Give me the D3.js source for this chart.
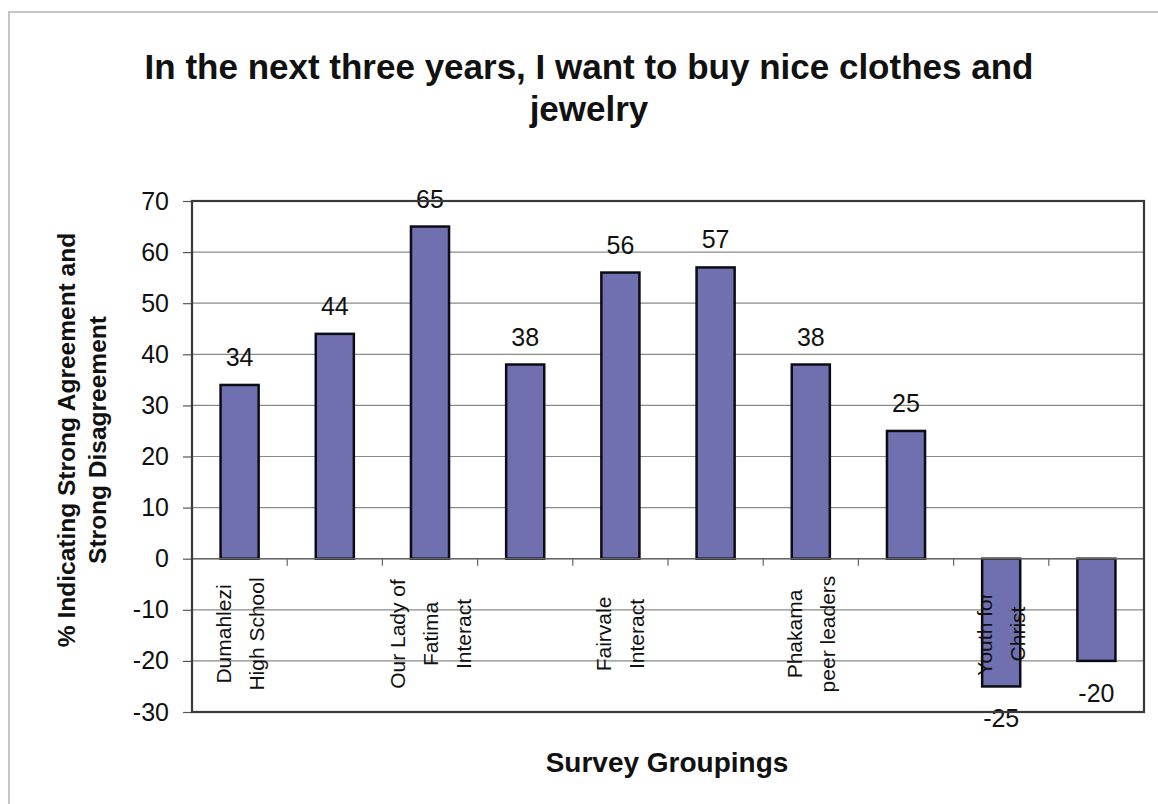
<!DOCTYPE html>
<html>
<head>
<meta charset="utf-8">
<script src="https://cdn.jsdelivr.net/npm/d3@7"></script>
<style>
  html, body { margin: 0; padding: 0; background: #fff; }
  svg { display: block; font-family: "Liberation Sans", Arial, sans-serif; }
</style>
</head>
<body>
<svg id="chart" width="1158" height="804"></svg>
<script>
// Survey groups (only every other group carries a printed name on the axis)
const groups = [
  "Dumahlezi High School", "",
  "Our Lady of Fatima Interact", "",
  "Fairvale Interact", "",
  "Phakama peer leaders", "",
  "Youth for Christ", ""
];
// % indicating strong agreement minus strong disagreement
const values = [34, 44, 65, 38, 56, 57, 38, 25, -25, -20];
const yTicks = [-30, -20, -10, 0, 10, 20, 30, 40, 50, 60, 70];
const titleLines = ["In the next three years, I want to buy nice clothes and", "jewelry"];
const yTitleLines = ["% Indicating Strong Agreement and", "Strong Disagreement"];
const xTitle = "Survey Groupings";

const svg = d3.select("#chart");
const plot = { left: 192, right: 1144, top: 201, bottom: 712 };

// outer chart frame
svg.append("rect")
  .attr("x", 9).attr("y", 12).attr("width", 1200).attr("height", 900)
  .attr("fill", "none").attr("stroke", "#b4b4b4").attr("stroke-width", 1.5);

const x = d3.scaleBand()
  .domain(d3.range(values.length))
  .range([plot.left, plot.right])
  .paddingInner(0.6).paddingOuter(0.3);
const step = x.step();
const boundary = i => x(i) - step * 0.3;   // left edge of a group's slot

const y = d3.scaleLinear().domain([-30, 70]).range([plot.bottom, plot.top]);

// horizontal gridlines
svg.append("g").selectAll("line").data(yTicks).join("line")
  .attr("x1", plot.left).attr("x2", plot.right)
  .attr("y1", d => y(d)).attr("y2", d => y(d))
  .attr("stroke", "#8a8a8a").attr("stroke-width", 1.2);

// value axis ticks and labels (plain hyphen for negatives)
const yAxis = d3.axisLeft(y).tickValues(yTicks).tickSize(9).tickPadding(14).tickFormat(d => String(d));
const gy = svg.append("g").attr("transform", `translate(${plot.left},0)`).call(yAxis);
gy.select(".domain").remove();
gy.selectAll(".tick line").attr("stroke", "#555").attr("stroke-width", 1.2);
gy.selectAll(".tick text").attr("font-size", 25).attr("fill", "#111")
  .attr("font-family", "'Liberation Sans', Arial, sans-serif");

// bars
svg.append("g").selectAll("rect").data(values).join("rect")
  .attr("x", (d, i) => x(i))
  .attr("width", x.bandwidth())
  .attr("y", d => y(Math.max(0, d)))
  .attr("height", d => Math.abs(y(d) - y(0)))
  .attr("fill", "#7070b0")
  .attr("stroke", "#0c0c14").attr("stroke-width", 2.5);

// category axis along zero with tick marks at group boundaries
svg.append("line")
  .attr("x1", plot.left).attr("x2", plot.right)
  .attr("y1", y(0)).attr("y2", y(0))
  .attr("stroke", "#666").attr("stroke-width", 1.4);
svg.append("g").selectAll("line").data(d3.range(1, values.length)).join("line")
  .attr("x1", boundary).attr("x2", boundary)
  .attr("y1", y(0)).attr("y2", y(0) + 7)
  .attr("stroke", "#666").attr("stroke-width", 1.2);

// data labels
svg.append("g").selectAll("text").data(values).join("text")
  .attr("x", (d, i) => x(i) + x.bandwidth() / 2)
  .attr("y", d => d >= 0 ? y(d) - 19 : y(d) + 41)
  .attr("text-anchor", "middle")
  .attr("font-size", 25).attr("fill", "#111")
  .text(d => String(d));

// rotated, wrapped group names
const labelFont = 21, lineGap = 33, wrapWidth = 120;
const measurer = svg.append("text").attr("font-size", labelFont).attr("visibility", "hidden");
function wrap(str) {
  const words = str.split(" ");
  const lines = [];
  let cur = "";
  words.forEach(w => {
    const test = cur ? cur + " " + w : w;
    measurer.text(test);
    if (cur && measurer.node().getComputedTextLength() > wrapWidth) {
      lines.push(cur); cur = w;
    } else cur = test;
  });
  if (cur) lines.push(cur);
  return lines;
}
const labelG = svg.append("g");
groups.forEach((name, i) => {
  if (!name) return;
  const lines = wrap(name);
  const cx = x(i) + x.bandwidth() / 2;
  const t = labelG.append("text")
    .attr("transform", `translate(${cx},634) rotate(-90)`)
    .attr("text-anchor", "middle")
    .attr("font-size", labelFont).attr("fill", "#111");
  lines.forEach((ln, k) => {
    t.append("tspan")
      .attr("x", 0)
      .attr("y", (k - (lines.length - 1) / 2) * lineGap)
      .attr("dominant-baseline", "central")
      .text(ln);
  });
});
measurer.remove();

// plot area border
svg.append("rect")
  .attr("x", plot.left).attr("y", plot.top)
  .attr("width", plot.right - plot.left).attr("height", plot.bottom - plot.top)
  .attr("fill", "none").attr("stroke", "#3a3a3a").attr("stroke-width", 2.2);

// chart title
svg.append("g").selectAll("text").data(titleLines).join("text")
  .attr("x", 589).attr("y", (d, i) => 79 + i * 42)
  .attr("text-anchor", "middle")
  .attr("font-size", 35).attr("font-weight", "bold").attr("fill", "#111")
  .text(d => d);

// value axis title
const yt = svg.append("text")
  .attr("transform", "translate(82,440) rotate(-90)")
  .attr("text-anchor", "middle")
  .attr("font-size", 24.5).attr("font-weight", "bold").attr("fill", "#111");
yTitleLines.forEach((ln, k) => {
  yt.append("tspan").attr("x", 0)
    .attr("y", (k - 0.5) * 31)
    .attr("dominant-baseline", "central")
    .text(ln);
});

// category axis title
svg.append("text")
  .attr("x", 667).attr("y", 772)
  .attr("text-anchor", "middle")
  .attr("font-size", 28).attr("font-weight", "bold").attr("fill", "#111")
  .text(xTitle);
</script>
</body>
</html>
